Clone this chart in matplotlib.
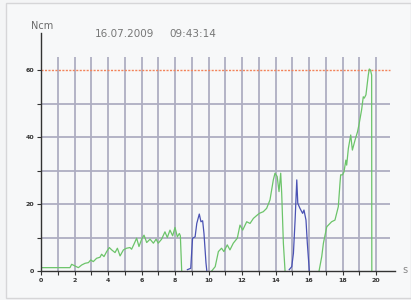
import matplotlib
matplotlib.use("Agg")
import matplotlib.pyplot as plt
import numpy as np
from matplotlib.patches import Rectangle

# ---- data ----
g1_x = [0, 1.73, 1.83, 2.03, 2.23, 2.43, 2.63, 2.83, 2.97, 3.12, 3.32, 3.52, 3.62, 3.76, 3.92, 4.08,
        4.22, 4.42, 4.56, 4.72, 4.92, 5.11, 5.31, 5.41, 5.55, 5.71, 5.85, 6.01, 6.15, 6.31, 6.51,
        6.71, 6.87, 7.0, 7.2, 7.4, 7.54, 7.7, 7.86, 8.0, 8.14, 8.26, 8.32, 8.4]
g1_y = [1, 1, 2, 1.5, 1, 1.8, 2.3, 2.5, 3.3, 2.8, 3.8, 4.1, 5, 4.3, 5.8, 7,
        6.3, 5.5, 6.8, 4.5, 6.3, 6.8, 7, 6.5, 8, 9.8, 7.3, 9.5, 10.7, 8.5, 9.5,
        8.3, 9.5, 8.3, 9.5, 11.7, 10, 12.2, 10.5, 13, 10.2, 11.2, 10.5, 0]
b1_x = [8.74, 8.94, 9.0, 9.05, 9.2, 9.3, 9.45, 9.55, 9.65, 9.73, 9.85, 9.9]
b1_y = [0.4, 0.8, 6, 9.8, 10.2, 14.2, 17, 14.7, 15, 11.2, 2.4, 0]
g2_x = [10.19, 10.4, 10.59, 10.78, 10.92, 11.12, 11.28, 11.48, 11.72, 11.88, 12.04, 12.28, 12.48,
        12.68, 12.84, 13.03, 13.27, 13.47, 13.67, 13.87, 13.97, 14.1, 14.21, 14.31, 14.37, 14.47, 14.57]
g2_y = [0, 1.3, 5.8, 6.8, 5.8, 7.8, 6.3, 8.3, 9.8, 13.7, 12.2, 14.7, 14.2,
        15.7, 16.4, 17.2, 17.7, 18.7, 21.2, 27.2, 29.2, 28.2, 23.7, 29.2, 23.2, 8.3, 0]
b2_x = [14.82, 14.97, 15.07, 15.17, 15.27, 15.33, 15.46, 15.62, 15.7, 15.82, 15.9, 16.02]
b2_y = [0.4, 1.3, 5.3, 15.2, 27.2, 20.2, 18.7, 17.2, 18.2, 15.2, 8.3, 0]
g3_x = [16.6, 16.76, 16.86, 17.06, 17.35, 17.55, 17.75, 17.85, 17.89, 18.0, 18.09, 18.2, 18.25,
        18.35, 18.49, 18.59, 18.75, 18.9, 19.0, 19.14, 19.24, 19.3, 19.4, 19.54, 19.6, 19.67, 19.74, 19.75]
g3_y = [0, 4.3, 8.3, 13.2, 14.7, 15.2, 19.2, 26.2, 28.7, 28.7, 29.6, 33.1, 31.6,
        36.6, 40.6, 36.1, 39.1, 41.6, 44.1, 48.1, 52, 51.6, 52.6, 58.5, 60.3, 60, 58.5, 0]

x_major = [0, 2, 4, 6, 8, 10, 12, 14, 16, 18, 20]
x_labels = ["0", "2", "4", "6", "8", "10", "12", "14", "16", "18", "20"]
y_major = [0, 20, 40, 60]
y_labels = ["0", "20", "40", "60"]
limit_value = 60
date_text = "16.07.2009"
time_text = "09:43:14"

# ---- figure ----
W, H = 411, 300
fig = plt.figure(figsize=(W / 100, H / 100), dpi=100, facecolor="#f4f5f6")

# outer frame
fig.patches.append(Rectangle((6 / W, 2 / H), (W - 6.5) / W, (H - 5) / H, transform=fig.transFigure,
                             facecolor="#f7f8f9", edgecolor="#d6d6d8", lw=1.0, zorder=-10))

ax_left, ax_bottom = 41, 300 - 271
ax_w, ax_h = 395 - 41, 271 - 33
ax = fig.add_axes([ax_left / W, ax_bottom / H, ax_w / W, ax_h / H])
ax.set_zorder(5)
ax.set_facecolor("none")
xmax = ax_w / 16.75
ymax = ax_h / 3.35
ax.set_xlim(0, xmax)
ax.set_ylim(0, ymax)

grid_c = "#aeaec2"
grid_top = 64
grid_right = (390 - 41) / 16.75
for xv in range(1, 21):
    ax.plot([xv, xv], [0, grid_top], color=grid_c, lw=1.3, zorder=1, solid_capstyle="butt")
for yv in [10, 20, 30, 40, 50]:
    ax.plot([0, grid_right], [yv, yv], color=grid_c, lw=1.3, zorder=1, solid_capstyle="butt")
ax.plot([0, grid_right], [limit_value, limit_value], color="#f2835a", lw=1.0, ls=(0, (1.5, 1.0)), zorder=2)

green = "#6cc46a"
blue = "#4a52b4"
ax.plot(g1_x, g1_y, color=green, lw=0.9, zorder=3)
ax.plot(g2_x, g2_y, color=green, lw=0.9, zorder=3)
ax.plot(g3_x, g3_y, color=green, lw=0.9, zorder=3)
ax.plot(b1_x, b1_y, color=blue, lw=0.9, zorder=3)
ax.plot(b2_x, b2_y, color=blue, lw=0.9, zorder=3)

for s in ["top", "right"]:
    ax.spines[s].set_visible(False)
for s in ["left", "bottom"]:
    ax.spines[s].set_color("#333333")
    ax.spines[s].set_linewidth(1.0)
    ax.spines[s].set_zorder(4)

ax.set_xticks(x_major)
ax.set_xticklabels(x_labels, fontsize=4.5, fontweight="bold", color="#333333")
ax.set_xticks(list(range(1, 21, 2)), minor=True)
ax.set_yticks(y_major)
ax.set_yticklabels(y_labels, fontsize=4.5, fontweight="bold", color="#333333")
ax.set_yticks([10, 30, 50], minor=True)
ax.tick_params(axis="both", which="both", length=3, width=0.8, color="#333333", pad=2)

fig.text(42 / W, 1 - 26 / H, "Ncm", fontsize=7, color="#6a6a6a", ha="center", va="center")
fig.text(124 / W, 1 - 34 / H, date_text, fontsize=7.5, color="#777777", ha="center", va="center")
fig.text(193 / W, 1 - 34 / H, time_text, fontsize=7.5, color="#777777", ha="center", va="center")
fig.text(405 / W, 1 - 270 / H, "s", fontsize=7, color="#888888", ha="center", va="center")

fig.savefig("out.png", dpi=100, facecolor=fig.get_facecolor())
